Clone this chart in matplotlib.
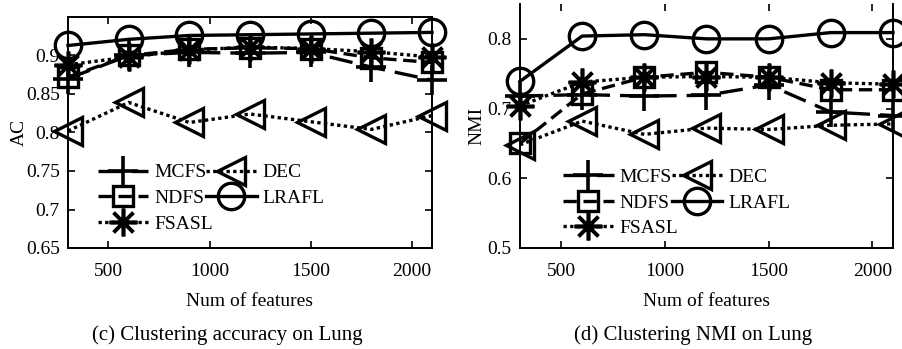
import matplotlib
matplotlib.use("Agg")
import matplotlib.pyplot as plt

plt.rcParams['font.family'] = ['Liberation Serif', 'DejaVu Serif']

num_features = [300, 600, 900, 1200, 1500, 1800, 2100]
methods = ["MCFS", "NDFS", "FSASL", "DEC", "LRAFL"]

# clustering accuracy (AC) on Lung
ac_mcfs = [0.870, 0.900, 0.904, 0.903, 0.904, 0.885, 0.868]
ac_ndfs = [0.872, 0.900, 0.908, 0.910, 0.909, 0.897, 0.891]
ac_fsasl = [0.888, 0.898, 0.907, 0.911, 0.909, 0.905, 0.898]
ac_dec = [0.802, 0.839, 0.813, 0.824, 0.814, 0.804, 0.822]
ac_lrafl = [0.913, 0.921, 0.926, 0.927, 0.928, 0.929, 0.930]

# clustering NMI on Lung
nmi_mcfs = [0.718, 0.720, 0.718, 0.719, 0.734, 0.695, 0.690]
nmi_ndfs = [0.650, 0.721, 0.745, 0.752, 0.745, 0.727, 0.727]
nmi_fsasl = [0.704, 0.738, 0.745, 0.746, 0.745, 0.737, 0.735]
nmi_dec = [0.648, 0.682, 0.663, 0.672, 0.670, 0.676, 0.678]
nmi_lrafl = [0.739, 0.804, 0.806, 0.800, 0.800, 0.809, 0.809]

styles = {
    "MCFS": dict(ls=(0, (7, 3)), marker='+', ms=22, mew=2.6),
    "NDFS": dict(ls=(0, (4, 2)), marker='s', ms=15, mew=2.4),
    "FSASL": dict(ls=(0, (1, 1)), marker=(8, 2, 0), ms=20, mew=2.6),
    "DEC": dict(ls=(0, (1, 1)), marker='<', ms=20, mew=2.4),
    "LRAFL": dict(ls='-', marker='o', ms=19, mew=2.4),
}

fig = plt.figure(figsize=(9.03, 3.49), dpi=100)
W, H = 903, 349


def add_axes(l, r, t, b):
    return fig.add_axes([l / W, 1 - b / H, (r - l) / W, (b - t) / H])


def draw(ax, series, ylim, yticks, ylabel, ylab_x, top_spine=True):
    for name, vals in zip(methods, series):
        ax.plot(num_features, vals, color='black', lw=2.4, mfc='none',
                mec='black', clip_on=False, label=name, **styles[name])
    ax.set_xlim(300, 2100)
    ax.set_ylim(*ylim)
    ax.set_xticks([500, 1000, 1500, 2000])
    ax.set_yticks(yticks)
    ax.set_yticklabels(["%g" % v for v in yticks])
    ax.tick_params(direction='in', top=True, right=True, length=5, width=1.2,
                   labelsize=14)
    ax.tick_params(axis='x', pad=11)
    ax.tick_params(axis='y', pad=6)
    for s in ax.spines.values():
        s.set_linewidth(1.4)
    if not top_spine:
        ax.spines['top'].set_visible(False)
    ax.set_xlabel("Num of features", fontsize=14, va='center')
    ax.set_ylabel(ylabel, fontsize=14, va='center')
    ax.yaxis.set_label_coords(ylab_x, 0.5)
    return ax


ax1 = add_axes(68, 432, 17, 248)
draw(ax1, [ac_mcfs, ac_ndfs, ac_fsasl, ac_dec, ac_lrafl], (0.65, 0.95),
     [0.65, 0.7, 0.75, 0.8, 0.85, 0.9], "AC", -0.135)
ax1.xaxis.set_label_coords(0.5, -(301 - 248) / 231)

ax2 = add_axes(520, 893, 4, 248)
draw(ax2, [nmi_mcfs, nmi_ndfs, nmi_fsasl, nmi_dec, nmi_lrafl], (0.5, 0.85),
     [0.5, 0.6, 0.7, 0.8], "NMI", -0.115, top_spine=False)
ax2.xaxis.set_label_coords(0.5, -(301 - 248) / 244)

for ax, anchor in ((ax1, (0.06, 0.033)), (ax2, (0.095, 0.012))):
    h, l = ax.get_legend_handles_labels()
    ax.legend(h, l, ncol=2, frameon=False, fontsize=14, loc='lower left',
              bbox_to_anchor=anchor, handlelength=2.6, handletextpad=0.3,
              columnspacing=-0.35, labelspacing=0.41, borderaxespad=0)

fig.text(227 / W, 1 - 335 / H, "(c) Clustering accuracy on Lung",
         ha='center', va='center', fontsize=15)
fig.text(693 / W, 1 - 335 / H, "(d) Clustering NMI on Lung",
         ha='center', va='center', fontsize=15)

fig.savefig("out.png", dpi=100)
